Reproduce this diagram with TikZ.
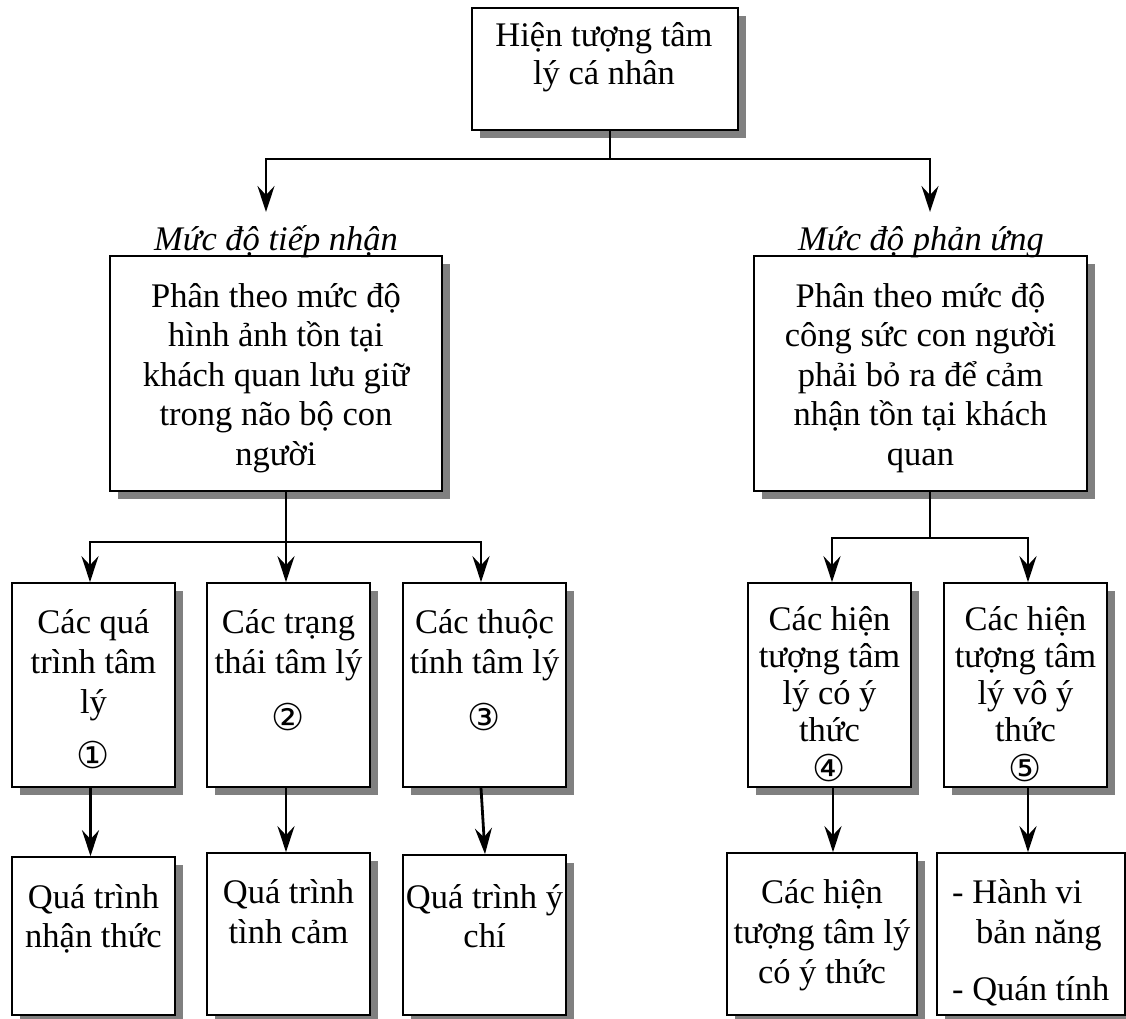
\documentclass[tikz,border=0pt]{standalone}
\usepackage{fontspec}
\setmainfont{Liberation Serif}
\newfontfamily\circfont{DejaVu Sans}
\usetikzlibrary{arrows.meta,shadows}
\newcommand{\mystrut}{\rule{0pt}{33pt}}
\newcommand{\cnum}[1]{{\circfont\fontsize{37}{37}\selectfont #1}}
\tikzset{
  box/.style={draw, line width=1.7pt, fill=white, rectangle, inner sep=0pt,
    drop shadow={shadow xshift=8pt, shadow yshift=-8pt, fill=black!50, opacity=1}},
  txt/.style={inner sep=0pt, anchor=north, align=center,
    font={\fontsize{34.5}{#1}\selectfont\lineskiplimit=-50pt\lineskip=0pt}},
  txt/.default=39.5,
  lbl/.style={inner sep=0pt, anchor=base, font=\fontsize{34.5}{40}\selectfont\itshape},
  conn/.style={line width=2.8pt},
  arr/.style={conn, -{Stealth[length=26pt,width=17pt,inset=9pt]}},
}
\begin{document}
\begin{tikzpicture}[x=1pt,y=-1pt]
\useasboundingbox (0,0) rectangle (1126,1019);

% boxes
\node[box, minimum width=266pt, minimum height=122pt] (b0) at (605,69) {};
\node[box, minimum width=332pt, minimum height=235pt] (bL) at (276,373.5) {};
\node[box, minimum width=333pt, minimum height=235pt] (bR) at (920.5,373.5) {};
\node[box, minimum width=163pt, minimum height=204pt] (c1) at (93.5,685) {};
\node[box, minimum width=163pt, minimum height=204pt] (c2) at (288.5,685) {};
\node[box, minimum width=163pt, minimum height=204pt] (c3) at (484.5,685) {};
\node[box, minimum width=163pt, minimum height=204pt] (c4) at (829.5,685) {};
\node[box, minimum width=163pt, minimum height=204pt] (c5) at (1025.5,685) {};
\node[box, minimum width=163pt, minimum height=158pt] (d1) at (93.5,936) {};
\node[box, minimum width=163pt, minimum height=162pt] (d2) at (288.5,934) {};
\node[box, minimum width=163pt, minimum height=160pt] (d3) at (484.5,935) {};
\node[box, minimum width=190pt, minimum height=162pt] (d4) at (822,934) {};
\node[box, minimum width=188pt, minimum height=162pt] (d5) at (1031,934) {};

% texts
\node[txt=38] (t0) at (604,13) {\mystrut Hiện tượng tâm\\lý cá nhân};
\node[lbl] (lblL) at (276,250) {Mức độ tiếp nhận};
\node[lbl] (lblR) at (921,250) {Mức độ phản ứng};
\node[txt] (tL) at (276,274) {\mystrut Phân theo mức độ\\hình ảnh tồn tại\\khách quan lưu giữ\\trong não bộ con\\người};
\node[txt] (tR) at (920.5,274) {\mystrut Phân theo mức độ\\công sức con người\\phải bỏ ra để cảm\\nhận tồn tại khách\\quan};
\node[txt=40] (tc1) at (93.5,600) {\mystrut Các quá\\trình tâm\\lý\\[15pt]\cnum{①}};
\node[txt=40] (tc2) at (288.5,600) {\mystrut Các trạng\\thái tâm lý\\[17pt]\cnum{②}};
\node[txt=40] (tc3) at (484.5,600) {\mystrut Các thuộc\\tính tâm lý\\[17pt]\cnum{③}};
\node[txt=37] (tc4) at (829.5,597) {\mystrut Các hiện\\tượng tâm\\lý có ý\\thức\\[3pt]\cnum{④}};
\node[txt=37] (tc5) at (1025.5,597) {\mystrut Các hiện\\tượng tâm\\lý vô ý\\thức\\[3pt]\cnum{⑤}};
\node[txt=39] (td1) at (93.5,875) {\mystrut Quá trình\\nhận thức};
\node[txt=40] (td2) at (288.5,870) {\mystrut Quá trình\\tình cảm};
\node[txt=39] (td3) at (484.5,875) {\mystrut Quá trình ý\\chí};
\node[txt=40] (td4) at (822,870) {\mystrut Các hiện\\tượng tâm lý\\có ý thức};
\node[txt=40, anchor=north west, align=left] (td5) at (952,870) {\mystrut - Hành vi\\\hspace*{24pt}bản năng\\[17pt]- Quán tính};

% connectors: top level
\coordinate (j0) at (610,159);
\coordinate (aL) at (266,212);
\coordinate (aR) at (930,212);
\draw[conn] (b0.south -| j0) -- (j0);
\draw[arr] (j0) -| (aL);
\draw[arr] (j0) -| (aR);

% left branch
\coordinate (jL) at (286,542);
\coordinate (jL1) at (90,542);
\coordinate (jL3) at (481,542);
\draw[arr] (bL.south -| jL) -- (jL |- c2.north);
\draw[arr] (jL) -| (jL1 |- c1.north);
\draw[arr] (jL) -| (jL3 |- c3.north);

% right branch
\coordinate (jR) at (930,538);
\coordinate (jR4) at (832,538);
\coordinate (jR5) at (1028,538);
\draw[conn] (bR.south -| jR) -- (jR);
\draw[arr] (jR) -| (jR4 |- c4.north);
\draw[arr] (jR) -| (jR5 |- c5.north);

% second level arrows
\draw[arr] ([xshift=-3pt]c1.south) -- ([xshift=-3pt]c1.south |- d1.north);
\draw[arr] ([xshift=-2.5pt]c2.south) -- ([xshift=-2.5pt]c2.south |- d2.north);
\draw[arr] ([xshift=-3.5pt]c3.south) -- ([xshift=0.5pt]c3.south |- d3.north);
\draw[arr] ([xshift=3.5pt]c4.south) -- ([xshift=3.5pt]c4.south |- d4.north);
\draw[arr] ([xshift=2.5pt]c5.south) -- ([xshift=2.5pt]c5.south |- d5.north);
\end{tikzpicture}
\end{document}
